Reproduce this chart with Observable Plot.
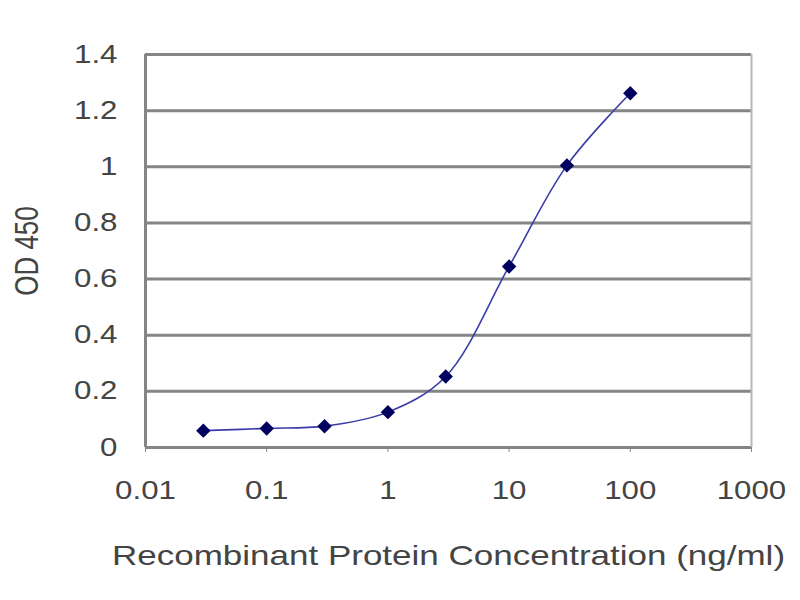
<!DOCTYPE html>
<html>
<head>
<meta charset="utf-8">
<script src="https://cdn.jsdelivr.net/npm/d3@7"></script>
<script src="https://cdn.jsdelivr.net/npm/@observablehq/plot@0.6"></script>
<style>
  html, body { margin: 0; padding: 0; background: #fff; }
  #chart svg { display: block; }
</style>
</head>
<body>
<div id="chart"></div>
<script>
// Data
const concentration = [0.03, 0.1, 0.3, 1, 3, 10, 30, 100];
const od450 = [0.06, 0.068, 0.076, 0.126, 0.253, 0.645, 1.005, 1.262];
const xTicks = [0.01, 0.1, 1, 10, 100, 1000];
const xTickLabels = ["0.01", "0.1", "1", "10", "100", "1000"];
const yTicks = [0, 0.2, 0.4, 0.6, 0.8, 1, 1.2, 1.4];
const yTickLabels = ["0", "0.2", "0.4", "0.6", "0.8", "1", "1.2", "1.4"];
const xTitle = "Recombinant Protein Concentration (ng/ml)";
const yTitle = "OD 450";

const data = concentration.map((c, i) => ({conc: c, od: od450[i]}));
const xLabelData = xTicks.map((t, i) => ({t, label: xTickLabels[i]}));
const labelFor = (ticks, labels) => d => {
  let best = 0;
  ticks.forEach((t, i) => { if (Math.abs(t - d) < Math.abs(ticks[best] - d)) best = i; });
  return labels[best];
};

const chart = Plot.plot({
  width: 800,
  height: 600,
  marginLeft: 145,
  marginRight: 49,
  marginTop: 54,
  marginBottom: 153,
  style: {fontFamily: "'Liberation Sans', Arial, sans-serif", background: "#fff", overflow: "visible"},
  x: {type: "log", domain: [0.01, 1000]},
  y: {domain: [0, 1.4]},
  marks: [
    Plot.ruleY(yTicks, {stroke: "#858585", strokeWidth: 3}),
    Plot.ruleX([1000], {y1: 0, y2: 1.4, stroke: "#b8b8b8", strokeWidth: 2}),
    Plot.ruleX([0.01], {y1: 0, y2: 1.4, stroke: "#858585", strokeWidth: 3}),
    Plot.axisX({
      ticks: xTicks,
      tickFormat: () => "",
      tickSize: 5,
      stroke: "#858585",
      label: null
    }),
    Plot.text(xLabelData, {
      x: "t",
      text: "label",
      frameAnchor: "bottom",
      lineAnchor: "middle",
      textAnchor: "middle",
      dy: 43,
      fontSize: 25,
      fill: "#444"
    }),
    Plot.axisY({
      ticks: yTicks,
      tickFormat: labelFor(yTicks, yTickLabels),
      tickSize: 0,
      tickPadding: 28,
      fontSize: 25,
      fill: "#444",
      label: null
    }),
    Plot.line(data, {x: "conc", y: "od", stroke: "#3c3ca8", strokeWidth: 1.6, curve: "catmull-rom"}),
    Plot.dot(data, {x: "conc", y: "od", symbol: "diamond2", r: 6.5, fill: "#00005e", stroke: "none"}),
    Plot.text([xTitle], {frameAnchor: "bottom", textAnchor: "middle", lineAnchor: "middle", dy: 109, fontSize: 28, fill: "#444"}),
    Plot.text([yTitle], {frameAnchor: "left", textAnchor: "middle", lineAnchor: "middle", dx: -118, rotate: -90, fontSize: 26, fill: "#444", className: "ytitle"})
  ]
});

document.getElementById("chart").appendChild(chart);

// The reference image is horizontally stretched (~1.25x); mimic that for horizontal texts.
const svg = d3.select(chart);
svg.selectAll("text").each(function () {
  const el = this;
  if (el.closest(".ytitle")) return;
  const len = el.getComputedTextLength();
  if (len > 0) {
    el.setAttribute("textLength", (len * 1.25).toFixed(1));
    el.setAttribute("lengthAdjust", "spacingAndGlyphs");
  }
});
svg.selectAll(".ytitle text").each(function () {
  const t = this.getAttribute("transform") || "";
  this.setAttribute("transform", t + " scale(1,1.25)");
});
</script>
</body>
</html>
